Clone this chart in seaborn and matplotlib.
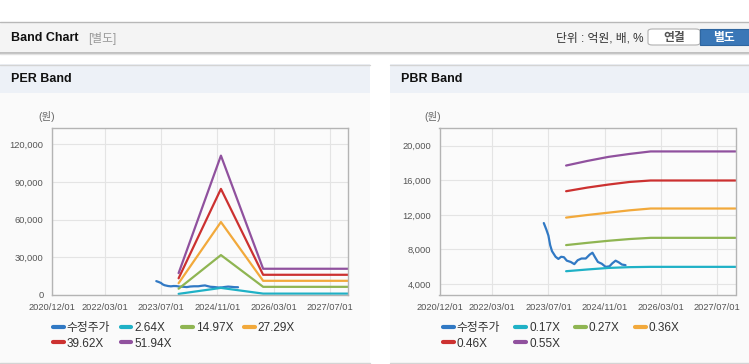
import matplotlib
matplotlib.use("Agg")
import matplotlib.pyplot as plt
from matplotlib.patches import Rectangle, FancyBboxPatch
from matplotlib.lines import Line2D
import pandas as pd
import seaborn as sns

# ---- data ----
price_dates = ["2023-05-22", "2023-06-13", "2023-07-01", "2023-07-16", "2023-08-01",
               "2023-09-01", "2023-09-25", "2023-10-19", "2023-11-12", "2023-12-07",
               "2024-01-10", "2024-02-10", "2024-03-10", "2024-04-12", "2024-05-19",
               "2024-06-22", "2024-07-16", "2024-08-07", "2024-09-01", "2024-10-04",
               "2024-11-07", "2024-12-10", "2025-01-04", "2025-02-01", "2025-03-01",
               "2025-03-28", "2025-04-28"]
price = [11050, 10300, 9600, 8500, 7800, 7150, 6900, 7150, 7100, 6700,
         6550, 6300, 6750, 6950, 6950, 7400, 7620, 7100, 6550, 6350,
         5980, 6050, 6400, 6700, 6500, 6250, 6180]

per_dates = ["2023-12-01", "2024-12-01", "2025-12-01", "2027-12-05"]
per_labels = ["2.64X", "14.97X", "27.29X", "39.62X", "51.94X"]
per_2_64 = [900, 5650, 1100, 1100]
per_14_97 = [5000, 31800, 6500, 6500]
per_27_29 = [9400, 58100, 11300, 11300]
per_39_62 = [13300, 84500, 16100, 16100]
per_51_94 = [17400, 111000, 20900, 20900]

pbr_dates = ["2023-12-01", "2024-06-01", "2024-12-01", "2025-06-01", "2025-12-01", "2027-12-05"]
pbr_labels = ["0.17X", "0.27X", "0.36X", "0.46X", "0.55X"]
pbr_0_17 = [5480, 5680, 5860, 5950, 5985, 5985]
pbr_0_27 = [8500, 8760, 9000, 9200, 9340, 9340]
pbr_0_36 = [11680, 11980, 12250, 12520, 12730, 12730]
pbr_0_46 = [14730, 15150, 15500, 15800, 15970, 15970]
pbr_0_55 = [17700, 18230, 18700, 19040, 19330, 19330]

x_ticks = ["2020-12-01", "2022-03-01", "2023-07-01", "2024-11-01", "2026-03-01", "2027-07-01"]
x_tick_labels = ["2020/12/01", "2022/03/01", "2023/07/01", "2024/11/01", "2026/03/01", "2027/07/01"]
per_yticks = [0, 30000, 60000, 90000, 120000]
pbr_yticks = [4000, 8000, 12000, 16000, 20000]

band_colors = ["#1fb1c6", "#8fb552", "#f2a93b", "#cc3130", "#90519e"]
price_color = "#3179c4"

sns.set_theme(style="whitegrid")
plt.rcParams["font.family"] = ["Liberation Sans", "Noto Sans CJK KR"]

W, H = 749, 364
fig = plt.figure(figsize=(W / 100, H / 100), dpi=100)
fig.patch.set_facecolor("white")


def box(x0, y0, x1, y1, fc):
    fig.add_artist(Rectangle((x0 / W, 1 - y1 / H), (x1 - x0) / W, (y1 - y0) / H,
                             transform=fig.transFigure, fc=fc, ec="none", zorder=-10))


def hline(x0, x1, y, color, lw=1.0):
    fig.add_artist(Line2D([x0 / W, x1 / W], [1 - y / H, 1 - y / H], transform=fig.transFigure,
                          color=color, lw=lw, zorder=-9))


def text(x, y, s, **kw):
    fig.text(x / W, 1 - y / H, s, va="center", **kw)


# page header
box(0, 22, W, 52, "#f4f4f4")
hline(0, W, 22, "#b8b8b8")
hline(0, W, 52.5, "#b4b4b4", 1.2)
hline(0, W, 54, "#e2e2e2", 1.0)
text(11, 38, "Band Chart", fontsize=9, fontweight="bold", color="#111")
text(88, 38.5, "[별도]", fontsize=8.5, color="#999")
text(643, 38.5, "단위 : 억원, 배, %", fontsize=8.5, color="#333", ha="right")
fig.add_artist(FancyBboxPatch((648 / W, 1 - 45 / H), 52 / W, 16 / H, boxstyle="round,pad=0,rounding_size=0.006",
                              transform=fig.transFigure, fc="white", ec="#b0b0b0", lw=0.8, zorder=-8))
fig.add_artist(Rectangle((700 / W, 1 - 45 / H), 49 / W, 16 / H, transform=fig.transFigure,
                         fc="#3a77b7", ec="#2f66a0", lw=0.8, zorder=-8))
text(674, 37.5, "연결", fontsize=8.5, fontweight="bold", color="#555", ha="center")
text(724, 37.5, "별도", fontsize=8.5, fontweight="bold", color="white", ha="center")

# panels
for px0, px1, title in [(0, 370, "PER Band"), (390, W, "PBR Band")]:
    box(px0, 64, px1, 364, "#fafafa")
    box(px0, 64, px1, 93, "#edf1f7")
    hline(px0, px1, 64.5, "#d4d4d4")
    hline(px0, px1, 362.5, "#d4d4d4")
    text(px0 + 11, 79, title, fontsize=9, fontweight="bold", color="#111")


def draw(left_px, dates, bands, labels, ylim, yticks, unit_x, legend_x, colsp):
    ax = fig.add_axes([left_px / W, (H - 295) / H, 296 / W, 167 / H])
    ax.set_facecolor("#fbfbfb")
    ax.set_zorder(1)
    d = pd.to_datetime(dates)
    handles = []
    sns.lineplot(x=pd.to_datetime(price_dates), y=price, ax=ax, color=price_color, lw=1.6)
    handles.append(Line2D([], [], color=price_color, lw=3))
    for vals, c in zip(bands, band_colors):
        sns.lineplot(x=d, y=vals, ax=ax, color=c, lw=1.6)
        handles.append(Line2D([], [], color=c, lw=3))
    ax.set_xlim(pd.Timestamp("2020-12-01"), pd.Timestamp("2027-12-05"))
    ax.set_ylim(*ylim)
    ax.set_xticks(pd.to_datetime(x_ticks))
    ax.set_xticklabels(x_tick_labels)
    ax.set_yticks(yticks)
    ax.set_yticklabels([f"{v:,}" for v in yticks])
    ax.set_xlabel("")
    ax.set_ylabel("")
    ax.grid(True, color="#e4e4e4", lw=0.8)
    for s in ax.spines.values():
        s.set_color("#b4b4b4")
        s.set_linewidth(1.0)
    ax.tick_params(axis="both", labelsize=6.7, colors="#b4b4b4", labelcolor="#555",
                   length=4, width=0.8, pad=2)
    text(unit_x, 117, "(원)", fontsize=7.5, color="#666", ha="center")

    names = ["수정주가"] + labels
    order = [0, 4, 1, 5, 2, 3]
    ax.legend([handles[i] for i in order], [names[i] for i in order], ncol=4,
              loc="upper left", bbox_to_anchor=(legend_x / W, 1 - 322 / H),
              bbox_transform=fig.transFigure, frameon=False, fontsize=8.5,
              handlelength=0.9, handletextpad=0.25, columnspacing=colsp,
              borderpad=0, borderaxespad=0, labelspacing=0.3, labelcolor="#333")
    return ax


draw(52, per_dates, [per_2_64, per_14_97, per_27_29, per_39_62, per_51_94], per_labels,
     (0, 133000), per_yticks, 47, 53, 0.9)
draw(439.5, pbr_dates, [pbr_0_17, pbr_0_27, pbr_0_36, pbr_0_46, pbr_0_55], pbr_labels,
     (2730, 22040), pbr_yticks, 433, 443, 1.3)

fig.savefig("out.png", dpi=100)
